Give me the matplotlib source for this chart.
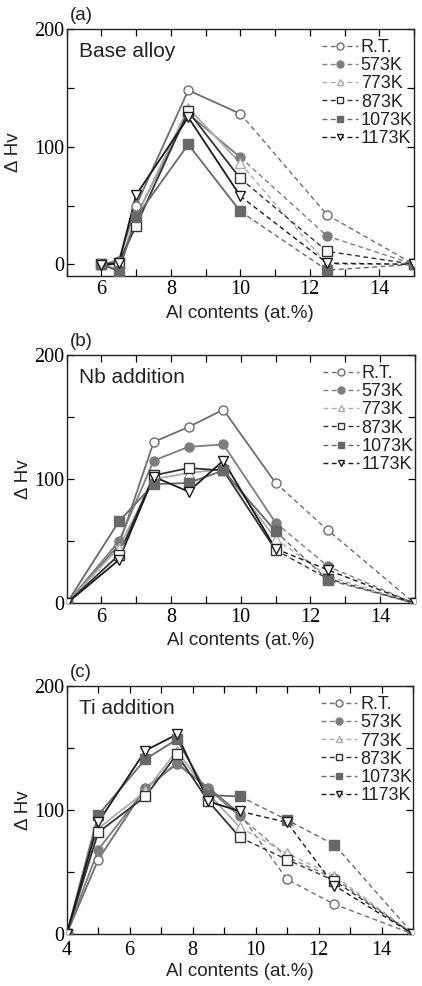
import matplotlib
matplotlib.use("Agg")
import matplotlib.pyplot as plt
from matplotlib.ticker import MultipleLocator

plt.rcParams['font.family'] = ['Liberation Sans', 'DejaVu Sans']

labels = ["R.T.", "573K", "773K", "873K", "1073K", "1173K"]

# (a) base alloy
x_a = [6, 6.5, 7, 8.5, 10, 12.5, 15]
y_a = {
    "R.T.":  [0, 3, 50, 148, 128, 42, 0],
    "573K":  [0, -5, 41, 128, 91, 24, 0],
    "773K":  [0, 0, 40, 133, 86, 0, 0],
    "873K":  [0, 1, 33, 130, 73, 11, 0],
    "1073K": [0, -6, 40, 102, 45, -5, 0],
    "1173K": [-1, 1, 59, 125, 58, 1, 0],
}
# (b) Nb addition
x_b = [5, 6.5, 7.5, 8.5, 9.5, 11, 12.5, 15]
y_b = {
    "R.T.":  [0, 47, 130, 142, 156, 97, 59, 0],
    "573K":  [0, 50, 115, 126, 128, 65, 30, 0],
    "773K":  [0, 45, 100, 105, 108, 52, 22, 0],
    "873K":  [0, 39, 103, 109, 107, 43, 20, 0],
    "1073K": [0, 66, 96, 97, 107, 58, 19, 0],
    "1173K": [0, 35, 102, 90, 115, 44, 27, 0],
}
# (c) Ti addition
x_c = [4, 5, 6.5, 7.5, 8.5, 9.5, 11, 12.5, 15]
y_c = {
    "R.T.":  [0, 60, 118, 137, 118, 97, 44, 24, 0],
    "573K":  [0, 68, 117, 138, 117, 95, 62, 45, 0],
    "773K":  [0, 85, 115, 148, 113, 86, 65, 47, 0],
    "873K":  [0, 82, 111, 145, 107, 78, 60, 43, 0],
    "1073K": [0, 96, 141, 157, 112, 111, 92, 72, 0],
    "1173K": [0, 90, 148, 161, 107, 99, 90, 39, 0],
}
# index of last point drawn with a solid line
solid_end = {"a": 4, "b": 5, "c": 5}

styles = {
    "R.T.":  dict(color="#6e6e6e", marker="o", mfc="white"),
    "573K":  dict(color="#7d7d7d", marker="o", mfc="#7d7d7d"),
    "773K":  dict(color="#ababab", marker="^", mfc="white"),
    "873K":  dict(color="#333333", marker="s", mfc="white"),
    "1073K": dict(color="#686868", marker="s", mfc="#686868"),
    "1173K": dict(color="#1a1a1a", marker="v", mfc="white"),
}

panels = [
    ("a", "Base alloy", x_a, y_a, (5, 15), (-10, 200), [0.158, 0.720, 0.823, 0.2505], -0.129),
    ("b", "Nb addition", x_b, y_b, (5, 15), (0, 200), [0.158, 0.388, 0.825, 0.252], -0.10),
    ("c", "Ti addition", x_c, y_c, (4, 15), (0, 200), [0.158, 0.0527, 0.821, 0.2515], -0.10),
]

fig = plt.figure(figsize=(4.22, 9.86), dpi=100)
dash = (0, (3.5, 2.5))

for key, title, xs, ys, xlim, ylim, pos, ylab_x in panels:
    ax = fig.add_axes(pos)
    k = solid_end[key]
    for lab in labels:
        st = styles[lab]
        v = ys[lab]
        ax.plot(xs[:k + 1], v[:k + 1], color=st["color"], lw=1.3, zorder=3)
        ax.plot(xs[k:], v[k:], color=st["color"], lw=1.0, ls=dash, zorder=2)
        ax.plot(xs, v, ls="none", marker=st["marker"], mfc=st["mfc"],
                mec=st["color"], ms=6.5, mew=1.0, zorder=4)
        ax.plot([], [], color=st["color"], lw=1.0, ls=dash, marker=st["marker"],
                mfc=st["mfc"], mec=st["color"], ms=5, mew=1.0, label=lab)
    ax.set_xlim(*xlim)
    ax.set_ylim(*ylim)
    ax.xaxis.set_major_locator(MultipleLocator(2))
    ax.xaxis.set_minor_locator(MultipleLocator(1))
    ax.yaxis.set_major_locator(MultipleLocator(100))
    ax.yaxis.set_minor_locator(MultipleLocator(50))
    ax.tick_params(which="both", direction="in", top=True, right=True,
                   length=5, width=0.9, pad=3)
    for lbl in ax.get_xticklabels() + ax.get_yticklabels():
        lbl.set_family("Liberation Serif")
        lbl.set_fontsize(14.5)
    ax.tick_params(axis="y", pad=1.5)
    if key == "c":
        ax.tick_params(axis="x", pad=5)
    for sp in ax.spines.values():
        sp.set_linewidth(1.0)
        sp.set_color("#222222")
    ax.set_xlabel("Al contents (at.%)", fontsize=13.5,
                  labelpad=2 if key == "c" else 4, color="#222222")
    ax.set_ylabel("\u0394 Hv", fontsize=13.5, color="#222222")
    ax.yaxis.set_label_coords(ylab_x, 0.5)
    ax.text(0.035, 0.91, title, transform=ax.transAxes, fontsize=15,
            va="center", ha="left", color="#222222")
    ax.text(0.01, 1.02, "(%s)" % key, transform=ax.transAxes, fontsize=13.5,
            va="bottom", ha="left", color="#222222")
    leg = ax.legend(loc="upper left", bbox_to_anchor=(0.735, 0.96), frameon=False,
                    fontsize=13, handlelength=2.0, handletextpad=0.15,
                    labelspacing=0.07, borderpad=0, borderaxespad=0)
    for t in leg.get_texts():
        t.set_color("#222222")

fig.savefig("out.png", dpi=100, facecolor="white")
